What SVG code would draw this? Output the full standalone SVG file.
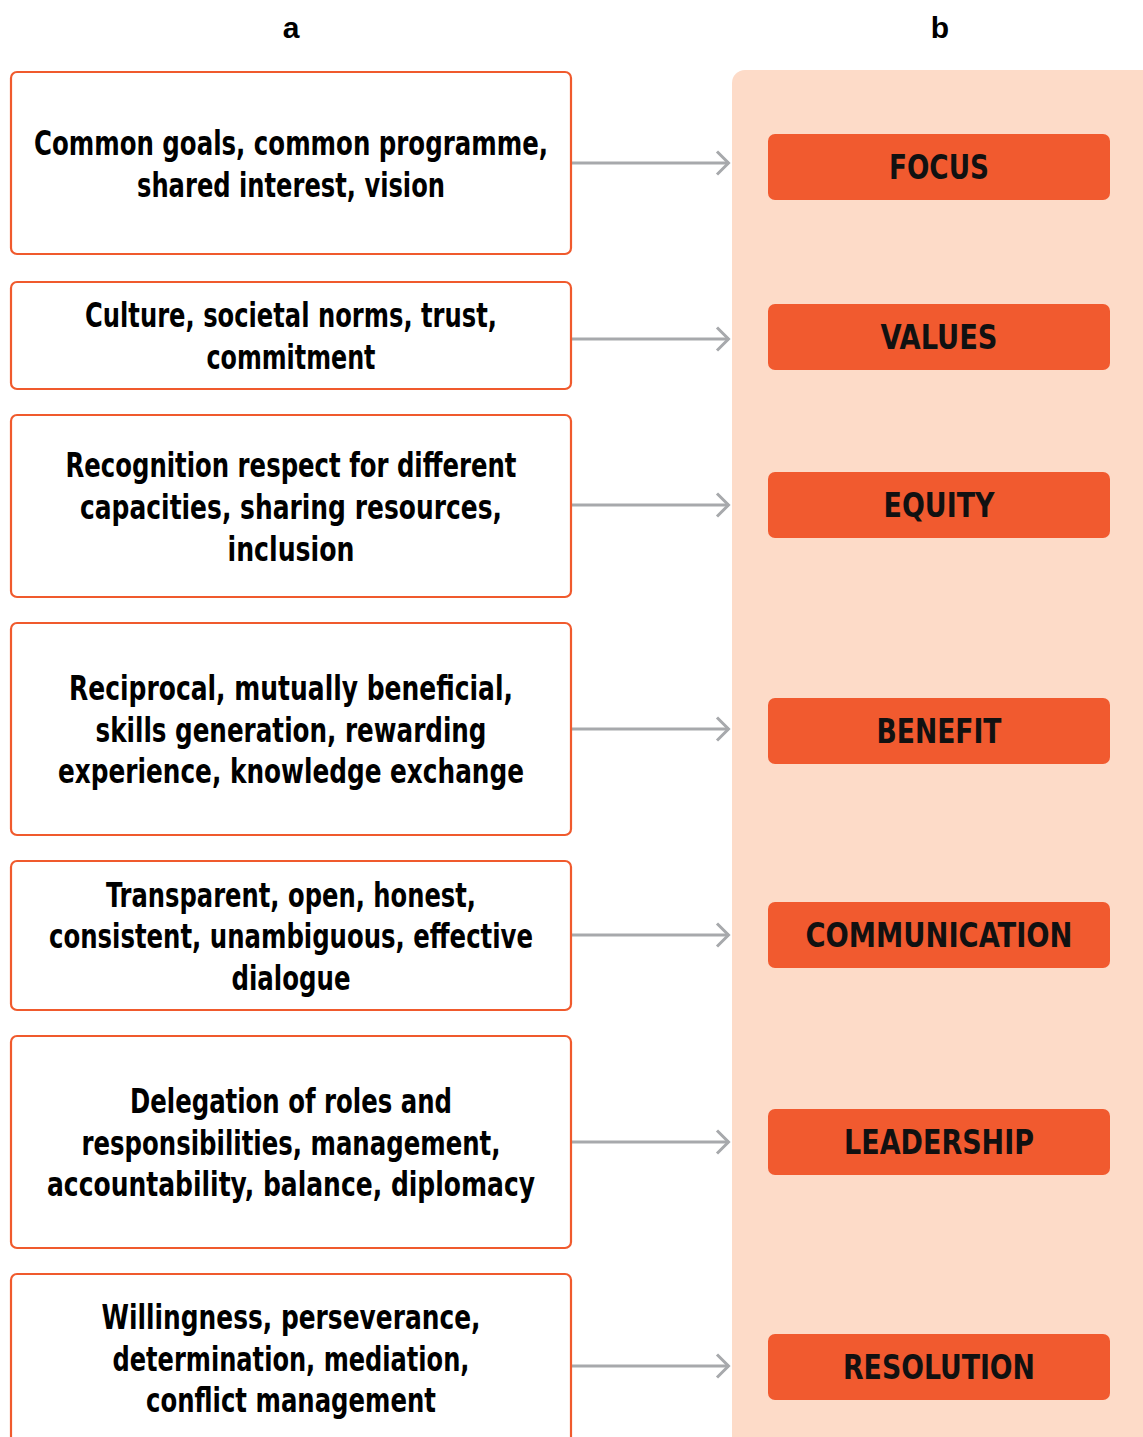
<svg xmlns="http://www.w3.org/2000/svg" width="1143" height="1437" viewBox="0 0 1143 1437">
<style>
.box{fill:#fff;stroke:#F05A2D;stroke-width:2.2}
.btn{fill:#F15A2F}
.t{font-family:"Liberation Sans Narrow","DejaVu Sans Condensed","Liberation Sans",sans-serif;font-weight:bold;font-size:33px;fill:#000;text-anchor:middle}
.bt{font-family:"Liberation Sans Narrow","DejaVu Sans Condensed","Liberation Sans",sans-serif;font-weight:bold;font-size:33px;fill:#111;text-anchor:middle}
.hd{font-family:"Liberation Sans","DejaVu Sans",sans-serif;font-weight:bold;font-size:30px;fill:#000;text-anchor:middle}
.conn{stroke:#A7A9AC;stroke-width:3;fill:none}
</style>
<defs>
<marker id="arr" markerUnits="userSpaceOnUse" markerWidth="20" markerHeight="30" refX="16" refY="13" orient="auto" viewBox="0 0 20 26">
<path d="M4,1.5 L15.5,13 L4,24.5" fill="none" stroke="#A7A9AC" stroke-width="3"/>
</marker>
</defs>
<rect width="1143" height="1437" fill="#fff"/>
<text class="hd" x="291" y="38">a</text>
<text class="hd" x="940" y="38">b</text>
<rect id="panel" x="732" y="70" width="430" height="1400" rx="13" fill="#FDDBC8"/>
<g id="connectors">
<line class="conn" x1="572" y1="163" x2="729" y2="163" marker-end="url(#arr)"/>
<line class="conn" x1="572" y1="339" x2="729" y2="339" marker-end="url(#arr)"/>
<line class="conn" x1="572" y1="505" x2="729" y2="505" marker-end="url(#arr)"/>
<line class="conn" x1="572" y1="729" x2="729" y2="729" marker-end="url(#arr)"/>
<line class="conn" x1="572" y1="935" x2="729" y2="935" marker-end="url(#arr)"/>
<line class="conn" x1="572" y1="1142" x2="729" y2="1142" marker-end="url(#arr)"/>
<line class="conn" x1="572" y1="1366" x2="729" y2="1366" marker-end="url(#arr)"/>
</g>
<g id="a1">
<rect class="box" x="11" y="72" width="560" height="182" rx="6"/>
<text class="t" x="291" y="155" textLength="514" lengthAdjust="spacingAndGlyphs">Common goals, common programme,</text>
<text class="t" x="291" y="197" textLength="308" lengthAdjust="spacingAndGlyphs">shared interest, vision</text>
</g>
<g id="a2">
<rect class="box" x="11" y="282" width="560" height="107" rx="6"/>
<text class="t" x="291" y="327" textLength="412" lengthAdjust="spacingAndGlyphs">Culture, societal norms, trust,</text>
<text class="t" x="291" y="369" textLength="169" lengthAdjust="spacingAndGlyphs">commitment</text>
</g>
<g id="a3">
<rect class="box" x="11" y="415" width="560" height="182" rx="6"/>
<text class="t" x="291" y="477" textLength="451" lengthAdjust="spacingAndGlyphs">Recognition respect for different</text>
<text class="t" x="291" y="519" textLength="422" lengthAdjust="spacingAndGlyphs">capacities, sharing resources,</text>
<text class="t" x="291" y="561" textLength="127" lengthAdjust="spacingAndGlyphs">inclusion</text>
</g>
<g id="a4">
<rect class="box" x="11" y="623" width="560" height="212" rx="6"/>
<text class="t" x="291" y="700" textLength="444" lengthAdjust="spacingAndGlyphs">Reciprocal, mutually beneficial,</text>
<text class="t" x="291" y="742" textLength="391" lengthAdjust="spacingAndGlyphs">skills generation, rewarding</text>
<text class="t" x="291" y="783" textLength="466" lengthAdjust="spacingAndGlyphs">experience, knowledge exchange</text>
</g>
<g id="a5">
<rect class="box" x="11" y="861" width="560" height="149" rx="6"/>
<text class="t" x="291" y="907" textLength="370" lengthAdjust="spacingAndGlyphs">Transparent, open, honest,</text>
<text class="t" x="291" y="948" textLength="484" lengthAdjust="spacingAndGlyphs">consistent, unambiguous, effective</text>
<text class="t" x="291" y="990" textLength="119" lengthAdjust="spacingAndGlyphs">dialogue</text>
</g>
<g id="a6">
<rect class="box" x="11" y="1036" width="560" height="212" rx="6"/>
<text class="t" x="291" y="1113" textLength="322" lengthAdjust="spacingAndGlyphs">Delegation of roles and</text>
<text class="t" x="291" y="1155" textLength="419" lengthAdjust="spacingAndGlyphs">responsibilities, management,</text>
<text class="t" x="291" y="1196" textLength="488" lengthAdjust="spacingAndGlyphs">accountability, balance, diplomacy</text>
</g>
<g id="a7">
<rect class="box" x="11" y="1274" width="560" height="200" rx="6"/>
<text class="t" x="291" y="1329" textLength="379" lengthAdjust="spacingAndGlyphs">Willingness, perseverance,</text>
<text class="t" x="291" y="1371" textLength="357" lengthAdjust="spacingAndGlyphs">determination, mediation,</text>
<text class="t" x="291" y="1412" textLength="290" lengthAdjust="spacingAndGlyphs">conflict management</text>
</g>
<g id="b1"><rect class="btn" x="768" y="134" width="342" height="66" rx="7"/><text class="bt" x="939" y="179" textLength="100" lengthAdjust="spacingAndGlyphs">FOCUS</text></g>
<g id="b2"><rect class="btn" x="768" y="304" width="342" height="66" rx="7"/><text class="bt" x="939" y="349" textLength="117" lengthAdjust="spacingAndGlyphs">VALUES</text></g>
<g id="b3"><rect class="btn" x="768" y="472" width="342" height="66" rx="7"/><text class="bt" x="939" y="517" textLength="111" lengthAdjust="spacingAndGlyphs">EQUITY</text></g>
<g id="b4"><rect class="btn" x="768" y="698" width="342" height="66" rx="7"/><text class="bt" x="939" y="743" textLength="125" lengthAdjust="spacingAndGlyphs">BENEFIT</text></g>
<g id="b5"><rect class="btn" x="768" y="902" width="342" height="66" rx="7"/><text class="bt" x="939" y="947" textLength="267" lengthAdjust="spacingAndGlyphs">COMMUNICATION</text></g>
<g id="b6"><rect class="btn" x="768" y="1109" width="342" height="66" rx="7"/><text class="bt" x="939" y="1154" textLength="190" lengthAdjust="spacingAndGlyphs">LEADERSHIP</text></g>
<g id="b7"><rect class="btn" x="768" y="1334" width="342" height="66" rx="7"/><text class="bt" x="939" y="1379" textLength="192" lengthAdjust="spacingAndGlyphs">RESOLUTION</text></g>
</svg>
